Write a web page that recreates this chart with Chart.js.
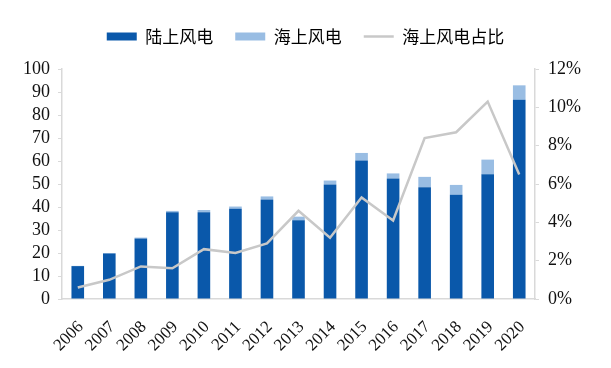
<!DOCTYPE html>
<html>
<head>
<meta charset="utf-8">
<script src="https://cdn.jsdelivr.net/npm/chart.js@4/dist/chart.umd.min.js"></script>
<style>
  html, body { margin: 0; padding: 0; background: #fff; }
  #wrap { width: 611px; height: 368px; }
</style>
</head>
<body>
<div id="wrap"><canvas id="chart" width="611" height="368"></canvas></div>
<script>
// ===============================
// 数据
// ===============================
const years = ["2006", "2007", "2008", "2009", "2010", "2011", "2012", "2013",
               "2014", "2015", "2016", "2017", "2018", "2019", "2020"];
const onshore  = [14.3, 19.8, 26.3, 37.7, 37.7, 39.2, 43.3, 34.2, 49.8, 60.2, 52.4, 48.6, 45.3, 54.2, 86.6];
const offshore = [0.1, 0.2, 0.4, 0.6, 1.0, 1.0, 1.3, 1.6, 1.7, 3.3, 2.2, 4.5, 4.3, 6.4, 6.3];
const share    = [0.6, 1.0, 1.7, 1.6, 2.6, 2.4, 2.9, 4.6, 3.2, 5.3, 4.1, 8.4, 8.7, 10.3, 6.5];
const leftTicks  = [0, 10, 20, 30, 40, 50, 60, 70, 80, 90, 100];
const rightTicks = [0, 2, 4, 6, 8, 10, 12];

// ===============================
// 样式
// ===============================
const DARK = "#0A58AA";
const LIGHT = "#99BDE3";
const GRAY = "#C8C8C8";
const AXIS = "#D9D9D9";
const serif = "'Liberation Serif', 'Times New Roman', serif";
const cjk = "'Noto Sans CJK SC', sans-serif";

// 图例下方多留一点空白
const legendGap = {
  id: "legendGap",
  beforeInit(chart) {
    const fit = chart.legend.fit;
    chart.legend.fit = function () {
      fit.call(this);
      this.height += 14;
    };
  }
};

new Chart(document.getElementById("chart"), {
  type: "bar",
  data: {
    labels: years,
    datasets: [
      { label: "陆上风电", data: onshore, backgroundColor: DARK, borderWidth: 0,
        yAxisID: "y", order: 1, stack: "s", barPercentage: 0.4, categoryPercentage: 1 },
      { label: "海上风电", data: offshore, backgroundColor: LIGHT, borderWidth: 0,
        yAxisID: "y", order: 1, stack: "s", barPercentage: 0.4, categoryPercentage: 1 },
      { type: "line", label: "海上风电占比", data: share, borderColor: GRAY,
        backgroundColor: GRAY, borderWidth: 2.5, pointRadius: 0, tension: 0,
        yAxisID: "y1", order: 0 }
    ]
  },
  plugins: [legendGap],
  options: {
    responsive: false,
    animation: false,
    layout: { padding: { top: 6, left: 0, right: 0, bottom: 0 } },
    plugins: {
      tooltip: { enabled: false },
      legend: {
        position: "top",
        labels: {
          usePointStyle: true,
          pointStyleWidth: 30,
          boxHeight: 8,
          padding: 22,
          color: "#222",
          font: { family: cjk, size: 17 },
          sort: (a, b) => a.datasetIndex - b.datasetIndex,
          generateLabels: (chart) => chart.data.datasets.map((ds, i) => ({
            text: ds.label,
            datasetIndex: i,
            fillStyle: ds.type === "line" ? GRAY : ds.backgroundColor,
            strokeStyle: ds.type === "line" ? GRAY : ds.backgroundColor,
            lineWidth: ds.type === "line" ? 2.5 : 0,
            pointStyle: ds.type === "line" ? "line" : "rect",
            hidden: false
          }))
        }
      }
    },
    scales: {
      x: {
        stacked: true,
        grid: { display: false },
        border: { color: AXIS, width: 1.5 },
        ticks: {
          autoSkip: false,
          minRotation: 45, maxRotation: 45, padding: 10, labelOffset: 3,
          color: "#111", font: { family: serif, size: 17 }
        },
        afterFit: (s) => { s.height = 69; }
      },
      y: {
        position: "left",
        stacked: true,
        min: 0, max: 100,
        afterBuildTicks: (s) => { s.ticks = leftTicks.map(v => ({ value: v })); },
        grid: { drawOnChartArea: false, tickLength: 4, color: AXIS },
        border: { color: AXIS, width: 1.5 },
        ticks: { autoSkip: false, padding: 8, color: "#111", font: { family: serif, size: 18 } },
        afterFit: (s) => { s.width = 62; }
      },
      y1: {
        position: "right",
        min: 0, max: 12,
        afterBuildTicks: (s) => { s.ticks = rightTicks.map(v => ({ value: v })); },
        grid: { drawOnChartArea: false, tickLength: 4, color: AXIS },
        border: { color: AXIS, width: 1.5 },
        ticks: {
          autoSkip: false,
          padding: 9, color: "#111", font: { family: serif, size: 18 },
          callback: (v) => v + "%"
        },
        afterFit: (s) => { s.width = 76; }
      }
    }
  }
});
</script>
</body>
</html>
